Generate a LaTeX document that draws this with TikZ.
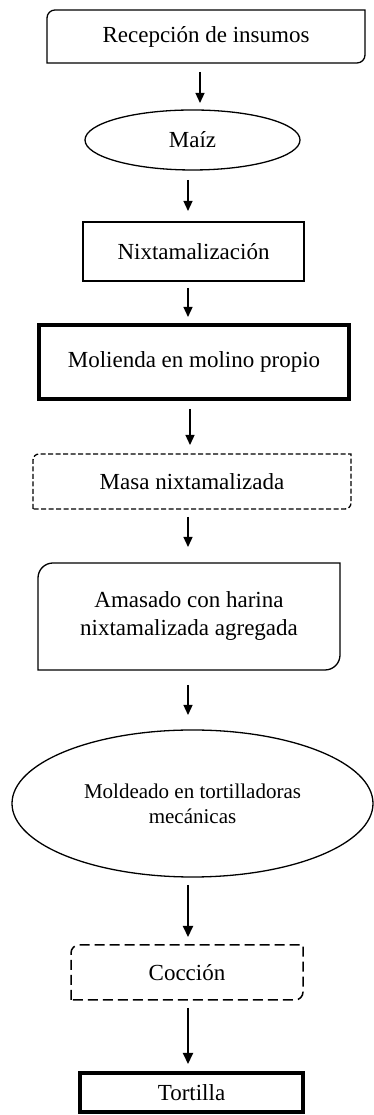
\documentclass[tikz,border=0pt]{standalone}
\usepackage{fontspec}
\setmainfont{Liberation Serif}
\usetikzlibrary{shapes.geometric,arrows.meta}
\newcommand{\tlbrbox}[3]{\draw[#3] (#1.south west) -- ([yshift=-#2]#1.north west) arc[start angle=180,end angle=90,radius=#2] -- (#1.north east) -- ([yshift=#2]#1.south east) arc[start angle=0,end angle=-90,radius=#2] -- cycle;}
\begin{document}
\begin{tikzpicture}[x=1pt,y=1pt,
  base/.style={inner sep=0pt,outer sep=0pt,align=center,font=\fontsize{23}{28}\selectfont},
  plainbox/.style={base,draw,line width=1.3pt},
  thickbox/.style={base,draw,line width=4pt},
  hidden/.style={base},
  ovalnode/.style={base,draw,ellipse,line width=1.3pt},
  arr/.style={line width=1.3pt,-{Triangle[length=10pt,width=9pt]}},
  thickarr/.style={line width=2pt,-{Triangle[length=11pt,width=10pt]}},
  finedash/.style={line width=1.3pt,dash pattern=on 5pt off 2.5pt},
  longdash/.style={line width=1.5pt,dash pattern=on 10pt off 5pt},
  solidline/.style={line width=1.3pt}]
\useasboundingbox (0,0) rectangle (374,1115);
\node[hidden,minimum width=318pt,minimum height=53pt] (rec) at (206,1078.5) {Recepción de insumos};
\tlbrbox{rec}{8pt}{solidline}
\node[ovalnode,minimum width=215pt,minimum height=60pt] (maiz) at (192.5,975) {Maíz};
\node[plainbox,minimum width=221pt,minimum height=59pt] (nix) at (193.5,863.5) {Nixtamalización};
\node[thickbox,minimum width=310pt,minimum height=74pt] (mol) at (194,753) {Molienda en molino propio};
\node[hidden,minimum width=318pt,minimum height=55pt] (masa) at (192,633.5) {Masa nixtamalizada};
\tlbrbox{masa}{6pt}{finedash}
\node[hidden,minimum width=302pt,minimum height=107pt] (amas) at (189,498.5) {Amasado con harina\\nixtamalizada agregada};
\tlbrbox{amas}{15pt}{solidline}
\node[ovalnode,minimum width=361pt,minimum height=147pt,font=\fontsize{21}{25}\selectfont] (mold) at (192.5,311.5) {Moldeado en tortilladoras\\mecánicas};
\node[hidden,minimum width=232pt,minimum height=55pt] (cocc) at (187,142.5) {Cocción};
\tlbrbox{cocc}{8pt}{longdash}
\node[thickbox,minimum width=223pt,minimum height=39pt] (tort) at (191.5,22.5) {Tortilla};
\draw[arr,shorten <=9pt,shorten >=7pt] (200,0 |- rec.south) -- (200,0 |- maiz.north);
\draw[arr,shorten <=10pt,shorten >=11pt] (188,0 |- maiz.south) -- (188,0 |- nix.north);
\draw[arr,shorten <=7pt,shorten >=8pt] (188,0 |- nix.south) -- (188,0 |- mol.north);
\draw[arr,shorten <=10pt,shorten >=9pt] (190,0 |- mol.south) -- (190,0 |- masa.north);
\draw[arr,shorten <=8pt,shorten >=16pt] (188,0 |- masa.south) -- (188,0 |- amas.north);
\draw[arr,shorten <=15pt,shorten >=15pt] (188,0 |- amas.south) -- (188,0 |- mold.north);
\draw[thickarr,shorten <=8pt,shorten >=8pt] (188,0 |- mold.south) -- (188,0 |- cocc.north);
\draw[thickarr,shorten <=8pt,shorten >=9pt] (188,0 |- cocc.south) -- (188,0 |- tort.north);
\end{tikzpicture}
\end{document}
